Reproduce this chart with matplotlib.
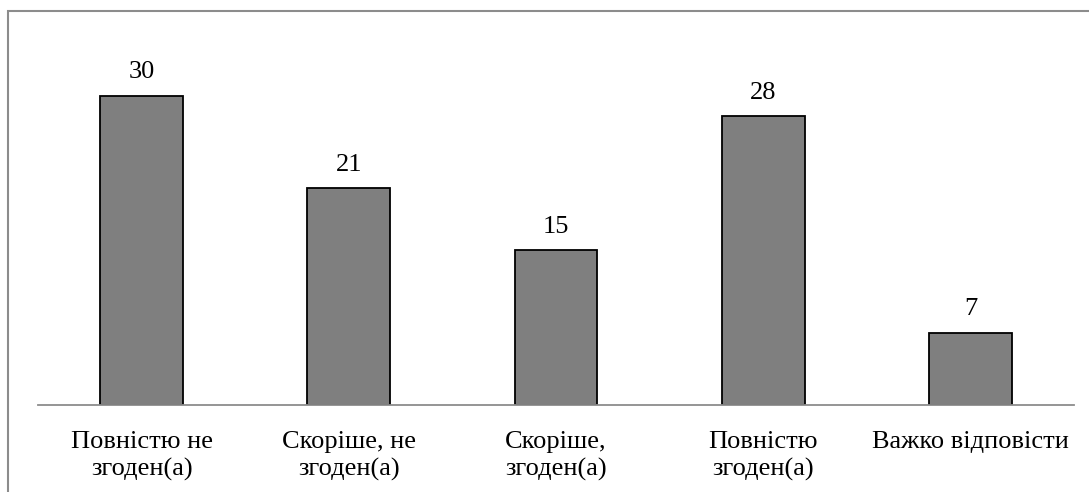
import matplotlib
matplotlib.use("Agg")
import matplotlib.pyplot as plt
from matplotlib.patches import Rectangle

categories = ["Повністю не\nзгоден(а)", "Скоріше, не\nзгоден(а)", "Скоріше,\nзгоден(а)",
              "Повністю\nзгоден(а)", "Важко відповісти"]
values = [30, 21, 15, 28, 7]

plt.rcParams['font.family'] = ['Liberation Serif', 'DejaVu Serif']

W, H = 1089, 492
fig = plt.figure(figsize=(W / 100, H / 100), dpi=100)

# outer frame (top and left visible)
fig.patches.append(Rectangle((8 / W, -0.05), 1.2, 1 - 11 / H + 0.05, transform=fig.transFigure,
                             fill=False, edgecolor='#8c8c8c', linewidth=1.5))

ax_left, ax_right = 38 / W, 1074 / W
ax_bottom = 1 - 405 / H
ax_top = 1 - 40 / H
ax = fig.add_axes([ax_left, ax_bottom, ax_right - ax_left, ax_top - ax_bottom])

x = list(range(len(values)))
bars = ax.bar(x, values, width=0.4, color='#7f7f7f', edgecolor='black', linewidth=1.3, zorder=3)
ax.set_xlim(-0.5, len(values) - 0.5)
ax.set_ylim(0, 35.4)

for b, v in zip(bars, values):
    ax.annotate(str(v), (b.get_x() + b.get_width() / 2, v), xytext=(0, 9),
                textcoords='offset points', ha='center', va='bottom', fontsize=19)

ax.set_xticks(x)
ax.set_xticklabels(categories, fontsize=19, linespacing=1.3)
ax.tick_params(axis='x', length=0, pad=18.5)
ax.set_yticks([])
for s in ['top', 'right', 'left']:
    ax.spines[s].set_visible(False)
ax.spines['bottom'].set_color('#8c8c8c')
ax.spines['bottom'].set_linewidth(1.3)
ax.spines['bottom'].set_zorder(4)

fig.savefig("out.png", dpi=100)
